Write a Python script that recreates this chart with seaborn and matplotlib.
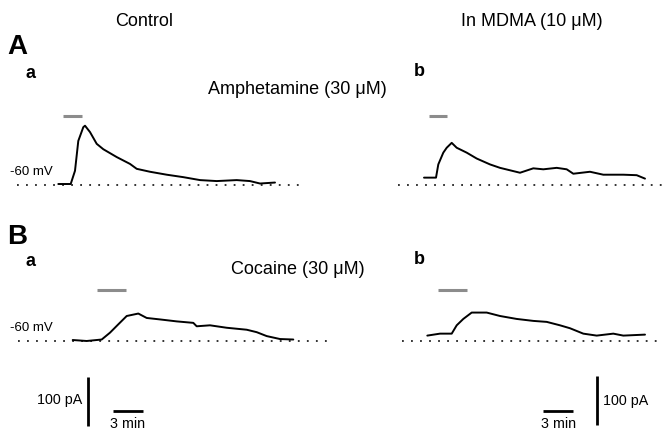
import matplotlib
matplotlib.use("Agg")
import matplotlib.pyplot as plt
import seaborn as sns
import numpy as np

# Inward currents (pA, relative to holding current at -60 mV) vs time (min)
# A: amphetamine 30 uM, control (a) and in MDMA 10 uM (b)
amph_ctrl_t = [0, 1.24, 1.67, 2.0, 2.5, 2.67, 3.17, 3.84, 4.5, 5.84, 7.17, 7.84,
               9.17, 10.84, 12.5, 14.17, 15.84, 17.84, 19.17, 20.17, 21.67]
amph_ctrl_i = [1, 1, 28, 89, 117, 120, 107, 83, 72, 56, 42, 32,
               26, 20, 15, 9, 7, 9, 7, 2, 4]
amph_mdma_t = [0, 1.2, 1.43, 1.93, 2.27, 2.77, 3.27, 4.27, 5.27, 6.6, 7.6, 8.6,
               9.6, 10.93, 11.93, 13.27, 14.27, 14.93, 16.6, 17.93, 19.93, 21.27, 22.1]
amph_mdma_i = [14, 14, 41, 65, 75, 85, 75, 65, 53, 41, 34, 29,
               24, 33, 31, 34, 31, 22, 26, 20, 20, 19, 12]

# B: cocaine 30 uM, control (a) and in MDMA (b)
coc_ctrl_t = [0, 1.4, 2.9, 3.73, 4.56, 5.4, 6.56, 7.4, 8.73, 10.4, 12.06, 12.4,
              13.73, 15.4, 17.4, 18.4, 19.4, 20.73, 22.06]
coc_ctrl_i = [1, -1, 2, 16, 33, 50, 55, 46, 43, 39, 36, 29,
              31, 26, 22, 17, 9, 3, 2]
coc_mdma_t = [0, 1.27, 2.44, 2.94, 3.6, 4.44, 5.94, 7.27, 8.94, 10.6, 11.94,
              13.27, 14.27, 15.6, 16.94, 18.6, 19.6, 21.77]
coc_mdma_i = [10, 14, 14, 31, 44, 57, 57, 50, 44, 40, 38,
              31, 25, 14, 10, 14, 10, 12]

# drug application periods (min)
drug_on = [0.5, 0.53, 2.4, 1.1]
drug_off = [2.34, 2.33, 5.3, 4.0]

scale_t = 3      # min
scale_i = 100    # pA

column_titles = ["Control", "In MDMA (10 \u03bcM)"]
drug_labels = ["Amphetamine (30 \u03bcM)", "Cocaine (30 \u03bcM)"]
holding_label = "-60 mV"

# ---- layout (pixels) ----
W, H = 663, 435
PX_MIN = 10.0
PX_PA = 0.49

sns.set_style("white")
plt.rcParams['font.family'] = ['Liberation Sans', 'DejaVu Sans']
plt.rcParams['text.color'] = 'black'

fig = plt.figure(figsize=(W / 100, H / 100), dpi=100)


def trace_axes(x0, y0, xl, xr, imin=-10, imax=150):
    """Axes where t=0 sits at pixel x0 and zero current at pixel row y0."""
    bottom = y0 - imin * PX_PA
    rect = [xl / W, 1 - bottom / H, (xr - xl) / W, (imax - imin) * PX_PA / H]
    ax = fig.add_axes(rect)
    ax.set_xlim((xl - x0) / PX_MIN, (xr - x0) / PX_MIN)
    ax.set_ylim(imin, imax)
    ax.axis("off")
    return ax


panels = [
    # (t, i, x0, y0, xl, xr, bar level pA)
    (amph_ctrl_t, amph_ctrl_i, 58.3, 185.5, 17, 305, 140),
    (amph_mdma_t, amph_mdma_i, 424.0, 185.5, 398, 663, 140),
    (coc_ctrl_t, coc_ctrl_i, 72.7, 341.5, 18, 330, 104),
    (coc_mdma_t, coc_mdma_i, 427.3, 341.5, 402, 663, 104),
]

axes = []
for k, (t, i, x0, y0, xl, xr, lvl) in enumerate(panels):
    ax = trace_axes(x0, y0, xl, xr)
    ax.axhline(0, color="#222222", lw=1.3, linestyle=(0, (1, 4.0)))
    sns.lineplot(x=t, y=i, ax=ax, color="black", lw=1.4, sort=False,
                 estimator=None)
    ax.plot([drug_on[k], drug_off[k]], [lvl, lvl], color="#8c8c8c", lw=2.2,
            solid_capstyle="butt")
    axes.append(ax)

# scale bars
bar_kw = dict(color="black", lw=2.0, clip_on=False, solid_capstyle="butt")
ax = axes[2]
ax.plot([1.53, 1.53], [-175.5, -175.5 + scale_i], **bar_kw)
ax.plot([4.03, 4.03 + scale_t], [-144.3, -144.3], **bar_kw)
ax = axes[3]
ax.plot([16.97, 16.97], [-172, -172 + scale_i], **bar_kw)
ax.plot([11.57, 11.57 + scale_t], [-142.9, -142.9], **bar_kw)


def ftext(x, y, s, **kw):
    fig.text(x / W, 1 - y / H, s, va="center", **kw)


ftext(144, 21, column_titles[0], ha="center", fontsize=13)
ftext(532, 21, column_titles[1], ha="center", fontsize=13)
ftext(7, 47, "A", ha="left", fontsize=20, fontweight="bold")
ftext(7, 237, "B", ha="left", fontsize=20, fontweight="bold")
ftext(26, 74, "a", ha="left", fontsize=13, fontweight="bold")
ftext(26, 262, "a", ha="left", fontsize=13, fontweight="bold")
ftext(414, 72, "b", ha="left", fontsize=13, fontweight="bold")
ftext(414, 259, "b", ha="left", fontsize=13, fontweight="bold")
ftext(297, 90, drug_labels[0], ha="center", fontsize=13)
ftext(298, 270, drug_labels[1], ha="center", fontsize=13)
ftext(10, 172, holding_label, ha="left", fontsize=9.5)
ftext(10, 328, holding_label, ha="left", fontsize=9.5)
ftext(82, 400, f"{scale_i} pA", ha="right", fontsize=10.3)
ftext(603, 401, f"{scale_i} pA", ha="left", fontsize=10.3)
ftext(128, 424, f"{scale_t} min", ha="center", fontsize=10.3)
ftext(559, 424, f"{scale_t} min", ha="center", fontsize=10.3)

fig.savefig("out.png", dpi=100)
